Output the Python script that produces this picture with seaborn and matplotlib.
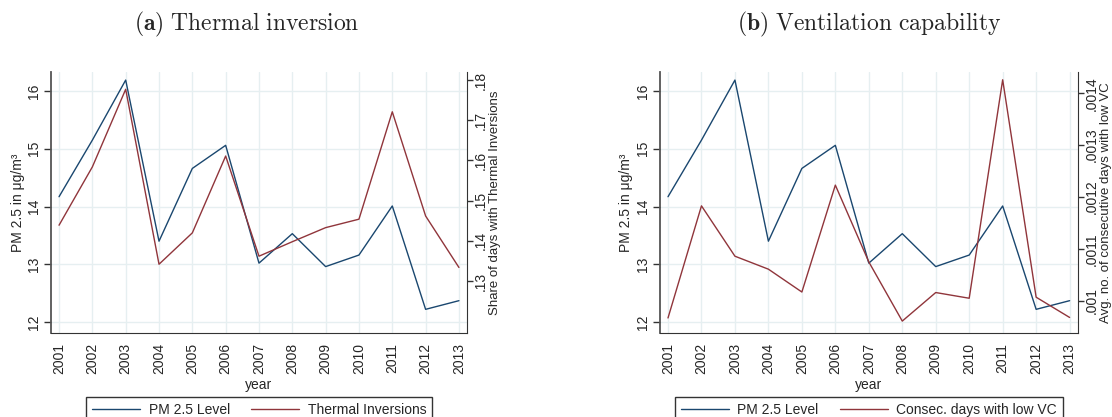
import numpy as np
import pandas as pd
import matplotlib
matplotlib.use('Agg')
import matplotlib.pyplot as plt
import seaborn as sns
from matplotlib.ticker import FuncFormatter

# data
years = list(range(2001, 2014))
pm25 = [14.17, 15.15, 16.19, 13.40, 14.66, 15.06, 13.02, 13.53, 12.96, 13.16, 14.01, 12.22, 12.37]
thermal_inv = [0.1439, 0.1584, 0.1777, 0.1342, 0.1420, 0.1611, 0.1362, 0.1398, 0.1433, 0.1454,
               0.1721, 0.1462, 0.1334]
low_vc = [0.000967, 0.001183, 0.001086, 0.001061, 0.001017, 0.001223, 0.001075, 0.000961,
          0.001016, 0.001005, 0.001426, 0.001007, 0.000968]

pm_ticks = [12, 13, 14, 15, 16]
ti_ticks = [0.13, 0.14, 0.15, 0.16, 0.17, 0.18]
vc_ticks = [0.001, 0.0011, 0.0012, 0.0013, 0.0014]

blue = '#1a476f'
red = '#90353b'
grid_col = '#e6eff1'
spine_col = '#333333'

sns.set_style('white')
plt.rcParams['font.family'] = ['Liberation Sans', 'DejaVu Sans']
plt.rcParams['mathtext.fontset'] = 'cm'
plt.rcParams['font.size'] = 10


def strip_zero(v, pos):
    s = f'{v:.4f}'.rstrip('0')
    return s.lstrip('0') if s.startswith('0') else s


def panel(ax, right_vals, right_name, right_label, rticks, rlim):
    df = pd.DataFrame({'year': years, 'pm': pm25, 'r': right_vals})
    sns.lineplot(data=df, x='year', y='pm', ax=ax, color=blue, lw=1)
    ax2 = ax.twinx()
    sns.lineplot(data=df, x='year', y='r', ax=ax2, color=red, lw=1)

    ax.set_xlim(2000.76, 2013.24)
    ax.set_ylim(11.81, 16.33)
    ax2.set_ylim(*rlim)
    ax.set_xticks(years)
    ax.set_yticks(pm_ticks)
    ax2.set_yticks(rticks)
    ax2.yaxis.set_major_formatter(FuncFormatter(strip_zero))

    ax.grid(True, color=grid_col, lw=1)
    ax.set_axisbelow(True)
    ax2.grid(False)

    ax.tick_params(axis='x', rotation=90, length=5, width=1, color=spine_col, pad=2)
    ax.tick_params(axis='y', labelrotation=90, length=5, width=1, color=spine_col, pad=2)
    ax2.tick_params(axis='y', labelrotation=90, length=4, width=1, color=spine_col, pad=1)
    for lab in ax.get_yticklabels() + ax2.get_yticklabels():
        lab.set_va('center')

    for s in ['top', 'right']:
        ax.spines[s].set_visible(False)
    for s in ['top', 'left', 'bottom']:
        ax2.spines[s].set_visible(False)
    ax.spines['left'].set_color('#555555')
    ax.spines['left'].set_linewidth(1.3)
    ax.spines['bottom'].set_color(spine_col)
    ax2.spines['right'].set_color(spine_col)

    ax.set_xlabel('year', labelpad=3)
    ax.set_ylabel('PM 2.5 in μg/m³', labelpad=2)
    ax2.set_ylabel(right_label, labelpad=1, fontsize=9.5)

    handles = [ax.get_lines()[0], ax2.get_lines()[0]]
    leg = ax.legend(handles, ['PM 2.5 Level', right_name], loc='upper center',
                    bbox_to_anchor=(0.5, -0.245), ncol=2, frameon=True, fancybox=False,
                    edgecolor=spine_col, framealpha=1, handlelength=3.5,
                    columnspacing=1.5, handletextpad=0.6, borderaxespad=0, fontsize=10)
    leg.get_frame().set_linewidth(1)


fig = plt.figure(figsize=(11.12, 4.17), dpi=100)
ax_a = fig.add_axes([0.0459, 0.2014, 0.374, 0.626])
ax_b = fig.add_axes([0.5935, 0.2014, 0.3756, 0.626])

panel(ax_a, thermal_inv, 'Thermal Inversions', 'Share of days with Thermal Inversions',
      ti_ticks, (0.1171, 0.1820))
panel(ax_b, low_vc, 'Consec. days with low VC', 'Avg. no. of consecutive days with low VC',
      vc_ticks, (0.000938, 0.001441))

fig.text(247 / 1112, 1 - 24 / 417, r'$\mathbf{(a)}\ \mathrm{Thermal\ inversion}$',
         ha='center', va='center', fontsize=17)
fig.text(869 / 1112, 1 - 24 / 417, r'$\mathbf{(b)}\ \mathrm{Ventilation\ capability}$',
         ha='center', va='center', fontsize=17)

fig.savefig('out.png', dpi=100)
